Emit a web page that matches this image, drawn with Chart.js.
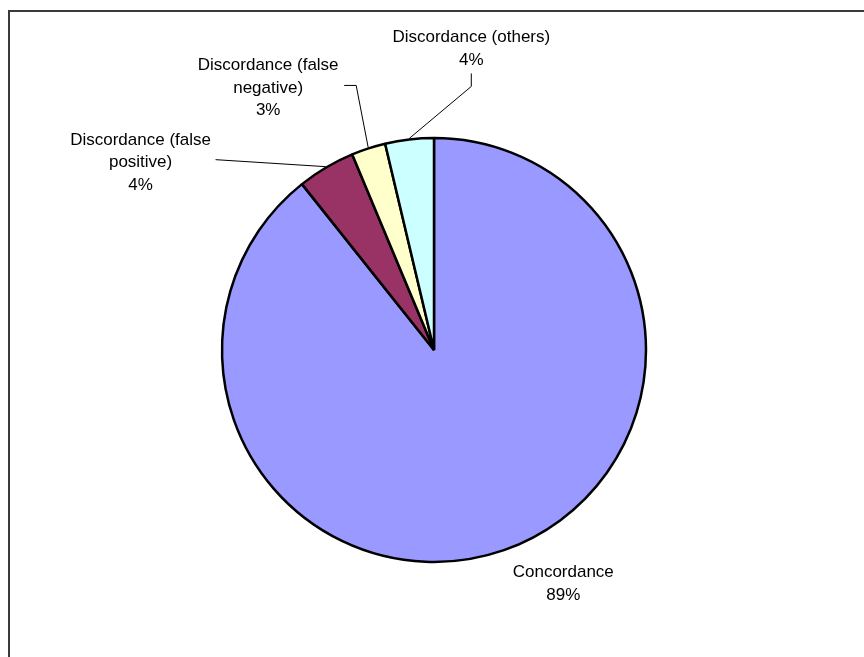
<!DOCTYPE html>
<html>
<head>
<meta charset="utf-8">
<script src="https://cdn.jsdelivr.net/npm/chart.js@4/dist/chart.umd.min.js"></script>
<style>
  html, body { margin: 0; padding: 0; background: #fff; }
  #wrap { position: relative; width: 864px; height: 657px; }
</style>
</head>
<body>
<div id="wrap"><canvas id="c"></canvas></div>
<script>
// ---- data ----
const categories = [
  ['Concordance'],
  ['Discordance (false', 'positive)'],
  ['Discordance (false', 'negative)'],
  ['Discordance (others)']
];
const values = [89.3, 4.4, 2.6, 3.7];
const sliceColors = ['#9999FF', '#993366', '#FFFFCC', '#CCFFFF'];

// label placement relative to each slice's outer-edge midpoint (style/layout only)
const labelLayout = [
  { dx: 59, dy: 26, leader: [] },
  { dx: -185, dy: -22, leader: [[-110, -7]] },
  { dx: -100, dy: -77, leader: [[-12, -62], [-24, -62]] },
  { dx: 62, dy: -96, leader: [[62, -52], [62, -65]] }
];

const framePlugin = {
  id: 'frame',
  beforeDraw(chart) {
    const ctx = chart.ctx;
    ctx.save();
    ctx.fillStyle = '#fff';
    ctx.fillRect(0, 0, chart.width, chart.height);
    ctx.strokeStyle = '#3a3a3a';
    ctx.lineWidth = 2;
    ctx.beginPath();
    ctx.moveTo(9, chart.height + 2);
    ctx.lineTo(9, 11);
    ctx.lineTo(chart.width + 2, 11);
    ctx.stroke();
    ctx.restore();
  }
};

const labelPlugin = {
  id: 'sliceLabels',
  afterDatasetsDraw(chart) {
    const ctx = chart.ctx;
    const meta = chart.getDatasetMeta(0);
    const data = chart.data.datasets[0].data;
    const total = data.reduce((a, b) => a + b, 0);
    const lh = 22.5;
    ctx.save();
    ctx.font = '17px "Liberation Sans", Arial, sans-serif';
    ctx.fillStyle = '#000';
    ctx.textAlign = 'center';
    ctx.textBaseline = 'alphabetic';
    meta.data.forEach((arc, i) => {
      const p = arc.getProps(['x', 'y', 'startAngle', 'endAngle', 'outerRadius'], true);
      const mid = (p.startAngle + p.endAngle) / 2;
      const r = p.outerRadius + 1;
      const ax = p.x + r * Math.cos(mid);
      const ay = p.y + r * Math.sin(mid);
      const lay = labelLayout[i];
      if (lay.leader.length) {
        ctx.strokeStyle = '#000';
        ctx.lineWidth = 1;
        ctx.beginPath();
        ctx.moveTo(ax, ay);
        lay.leader.forEach(pt => ctx.lineTo(ax + pt[0], ay + pt[1]));
        ctx.stroke();
      }
      const lines = chart.data.labels[i].concat([Math.round(data[i] / total * 100) + '%']);
      lines.forEach((t, k) => {
        ctx.fillText(t, ax + lay.dx, ay + lay.dy + k * lh);
      });
    });
    ctx.restore();
  }
};

new Chart(document.getElementById('c'), {
  type: 'pie',
  data: {
    labels: categories,
    datasets: [{
      data: values,
      backgroundColor: sliceColors,
      borderColor: '#000',
      borderWidth: 2.5,
      radius: 212
    }]
  },
  options: {
    responsive: true,
    maintainAspectRatio: false,
    animation: false,
    layout: { padding: { left: 4, right: 0, top: 43, bottom: 0 } },
    plugins: {
      legend: { display: false },
      tooltip: { enabled: false }
    }
  },
  plugins: [framePlugin, labelPlugin]
});
</script>
</body>
</html>
